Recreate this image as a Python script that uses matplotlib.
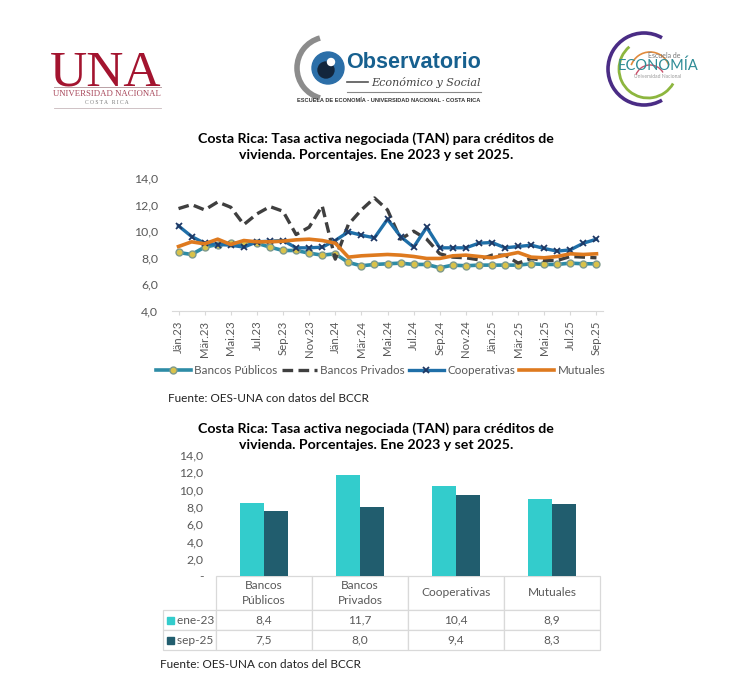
import matplotlib
matplotlib.use("Agg")
import matplotlib.pyplot as plt
from matplotlib.patches import Arc, Circle, Rectangle

plt.rcParams['font.family'] = ['Lato', 'DejaVu Sans']

months = ["Jän.23","Feb.23","Mär.23","Abr.23","Mai.23","Jun.23","Jul.23","Ago.23","Sep.23","Okt.23","Nov.23","Dez.23",
          "Jän.24","Feb.24","Mär.24","Abr.24","Mai.24","Jun.24","Jul.24","Ago.24","Sep.24","Okt.24","Nov.24","Dez.24",
          "Jän.25","Feb.25","Mär.25","Abr.25","Mai.25","Jun.25","Jul.25","Ago.25","Sep.25"]
publicos = [8.4,8.25,8.8,9.0,9.1,9.1,9.1,8.8,8.55,8.55,8.35,8.2,8.3,7.65,7.4,7.5,7.55,7.6,7.5,7.5,7.25,7.45,7.4,7.45,7.45,7.45,7.45,7.55,7.5,7.5,7.6,7.55,7.55]
privados = [11.7,12.0,11.6,12.2,11.8,10.5,11.3,11.85,11.5,9.75,10.3,11.9,7.9,10.5,11.6,12.5,11.6,9.4,10.0,9.4,8.3,8.05,8.0,7.85,8.2,8.2,7.6,7.95,7.8,7.8,8.1,8.05,8.0]
cooperativas = [10.4,9.6,9.1,9.0,8.95,8.8,9.2,9.25,9.3,8.75,8.75,8.8,9.3,9.95,9.7,9.5,10.9,9.6,8.8,10.3,8.75,8.75,8.75,9.1,9.15,8.75,8.85,8.95,8.7,8.5,8.6,9.1,9.4]
mutuales = [8.85,9.2,9.05,9.4,9.0,9.3,9.2,9.2,9.25,9.35,9.4,9.3,9.1,8.05,8.15,8.2,8.25,8.2,8.1,7.95,7.95,8.15,8.2,8.1,8.0,8.2,8.4,8.05,8.0,8.1,8.3,8.25,8.3]

bar_cats = ["Bancos\nPúblicos", "Bancos\nPrivados", "Cooperativas", "Mutuales"]
ene23 = [8.4, 11.7, 10.4, 8.9]
sep25 = [7.5, 8.0, 9.4, 8.3]
bar_ticks = [0, 2, 4, 6, 8, 10, 12, 14]

TITLE = "Costa Rica: Tasa activa negociada (TAN) para créditos de\nvivienda. Porcentajes. Ene 2023 y set 2025."
FUENTE = "Fuente: OES-UNA con datos del BCCR"
GREY = "#595959"
W, H = 750, 700

fig = plt.figure(figsize=(7.5, 7), dpi=100, facecolor="white")

def axpx(x0, y0, x1, y1, **kw):
    return fig.add_axes([x0 / W, 1 - y1 / H, (x1 - x0) / W, (y1 - y0) / H], **kw)

# Overlay in pixel coordinates for logos and free text
ov = axpx(0, 0, W, H)
ov.set_xlim(0, W); ov.set_ylim(H, 0); ov.axis("off"); ov.set_zorder(10)

# --- UNA logo
ov.text(106, 85, "UNA", color="#A3142F", family="Liberation Serif", fontsize=37, ha="center", va="baseline")
ov.plot([54, 161], [87, 87], color="#B9A0A5", lw=0.7)
ov.text(107, 94, "UNIVERSIDAD NACIONAL", color="#A8475A", family="Liberation Serif", fontsize=6.3, ha="center", va="center")
ov.text(107, 103, "C O S T A   R I C A", color="#777777", family="Liberation Serif", fontsize=4, ha="center", va="center")
ov.plot([54, 161], [108, 108], color="#C8B8BB", lw=0.6)

# --- Observatorio logo
ov.add_patch(Arc((328, 68), 62, 62, theta1=105, theta2=255, color="#8C8C8C", lw=4))
ov.add_patch(Circle((328, 68), 16, color="#2C6FA8"))
ov.add_patch(Circle((326, 70), 8, color="#13263C"))
ov.add_patch(Circle((331, 62), 3.5, color="white"))
ov.text(414, 68, "Observatorio", color="#17608F", family="Liberation Sans", weight="bold", fontsize=15.6, ha="center", va="baseline")
ov.plot([347, 368], [82, 82], color="#555555", lw=1.2)
ov.text(426, 83, "Económico y Social", color="#444444", family="DejaVu Serif", style="italic", fontsize=8, ha="center", va="center")
ov.plot([347, 481], [92, 92], color="#888888", lw=0.8)
ov.text(389, 100, "ESCUELA DE ECONOMÍA - UNIVERSIDAD NACIONAL - COSTA RICA", color="#333333",
        family="Liberation Sans", weight="bold", fontsize=4.1, ha="center", va="center")

# --- Escuela logo
ov.add_patch(Arc((644, 69), 72, 72, theta1=60, theta2=300, color="#4A2C85", lw=2.6))
ov.add_patch(Arc((648, 69), 58, 58, theta1=30, theta2=230, color="#8DB63F", lw=2.0))
ov.add_patch(Arc((650, 72), 40, 40, theta1=200, theta2=340, color="#E08A3C", lw=1.2))
ov.add_patch(Arc((650, 80), 30, 30, theta1=200, theta2=330, color="#C9506A", lw=1.0))
ov.text(664, 56, "Escuela de", color="#777777", fontsize=5, ha="center", va="center")
ov.text(658, 66, "ECONOMÍA", color="#2E8C96", fontsize=10.5, ha="center", va="center")
ov.text(658, 77, "Universidad Nacional", color="#999999", fontsize=3.6, ha="center", va="center")

# --- Titles and sources
ov.text(376, 147, TITLE, weight="bold", color="black", fontsize=10.15, ha="center", va="center", linespacing=1.42)
ov.text(376, 437, TITLE, weight="bold", color="black", fontsize=10.15, ha="center", va="center", linespacing=1.42)
ov.text(168, 398, FUENTE, color="#222222", fontsize=8.5, ha="left", va="center")
ov.text(160, 665, FUENTE, color="#222222", fontsize=8.5, ha="left", va="center")

# --- Line chart
ax = axpx(172, 178, 603, 311)
x = list(range(len(months)))
ax.plot(x, publicos, color="#2E8CA6", lw=2.6, marker="o", ms=5, mfc="#D9C24A", mec="#7F9A8C", mew=1, label="Bancos Públicos", zorder=2)
ax.plot(x, privados, color="#3F3F3F", lw=2.4, ls=(0, (3.2, 1.6)), label="Bancos Privados", zorder=3)
ax.plot(x, cooperativas, color="#1F6FA8", lw=2.4, marker="x", ms=5, mec="#1F3864", mew=1.3, label="Cooperativas", zorder=4)
ax.plot(x, mutuales, color="#DE7A1F", lw=2.6, label="Mutuales", zorder=5)
ax.set_xlim(-0.5, len(months) - 0.5)
ax.set_ylim(4, 14)
ax.set_yticks([4, 6, 8, 10, 12, 14], [f"{v:.1f}".replace(".", ",") for v in [4, 6, 8, 10, 12, 14]])
ax.set_xticks(x[::2], months[::2], rotation=90)
ax.tick_params(axis="y", length=0, labelsize=8.8, labelcolor=GREY, pad=10)
ax.tick_params(axis="x", length=3, color="#D9D9D9", labelsize=8.2, labelcolor=GREY, pad=4)
for s in ["top", "right", "left"]:
    ax.spines[s].set_visible(False)
ax.spines["bottom"].set_color("#D9D9D9")
ax.patch.set_alpha(0)
ax.legend(loc="center", bbox_to_anchor=(0.4845, -0.445), ncol=4, frameon=False, fontsize=8.4, labelcolor=GREY,
          handlelength=3.0, columnspacing=0.35, handletextpad=0.3, borderaxespad=0, borderpad=0)

# --- Bar chart
bx = axpx(216, 455, 600, 576)
pos = list(range(len(bar_cats)))
w = 0.25
bx.bar([p - w / 2 for p in pos], ene23, w, color="#33CCCC", label="ene-23")
bx.bar([p + w / 2 for p in pos], sep25, w, color="#215D6E", label="sep-25")
bx.set_xlim(-0.5, len(bar_cats) - 0.5)
bx.set_ylim(0, 14)
bx.set_yticks(bar_ticks, ["-" if v == 0 else f"{v:.1f}".replace(".", ",") for v in bar_ticks])
bx.tick_params(axis="y", length=0, labelsize=8.8, labelcolor=GREY, pad=9)
bx.set_xticks([])
for s in bx.spines.values():
    s.set_visible(False)

# Data table under the bars
tbl = bx.table(cellText=[[f"{v:.1f}".replace(".", ",") for v in ene23],
                         [f"{v:.1f}".replace(".", ",") for v in sep25]],
               colLabels=bar_cats, rowLabels=["   ene-23", "   sep-25"],
               cellLoc="center", rowLoc="left", loc="bottom")
tbl.auto_set_font_size(False)
tbl._autoColumns = []
tbl.set_fontsize(8.6)
row_h = {0: 34 / 121, 1: 20 / 121, 2: 20 / 121}
for (r, c), cell in tbl.get_celld().items():
    cell.set_edgecolor("#D9D9D9")
    cell.set_linewidth(0.9)
    cell.set_height(row_h[r])
    cell.set_width(53 / 384 if c == -1 else 0.25)
    cell.get_text().set_color(GREY)
    cell.get_text().set_linespacing(1.35)
for r, col in ((1, "#33CCCC"), (2, "#215D6E")):
    y_c = 610 + (r - 1) * 20 + 10
    ov.add_patch(Rectangle((167, y_c - 3.5), 7, 7, color=col, zorder=5))

fig.savefig("out.png", dpi=100)
